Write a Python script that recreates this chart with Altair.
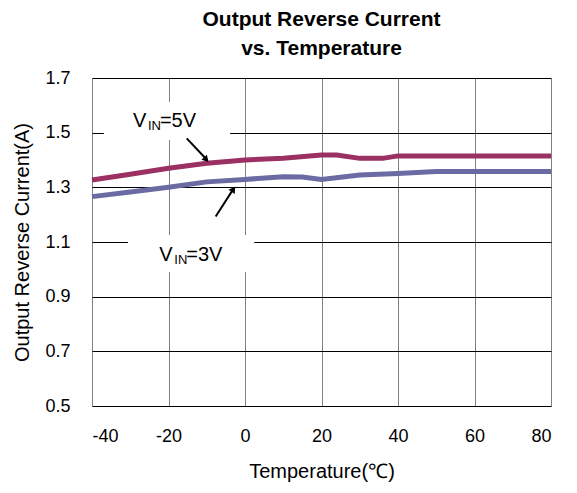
import altair as alt
import pandas as pd

# Data
temp_5v = [-40, -30, -20, -10, 0, 10, 20, 24, 30, 36, 40, 50, 60, 70, 80]
cur_5v = [1.327, 1.348, 1.370, 1.388, 1.400, 1.406, 1.418, 1.418, 1.406, 1.406, 1.415, 1.415, 1.415, 1.415, 1.415]
temp_3v = [-40, -30, -20, -10, 0, 10, 15, 20, 30, 40, 50, 60, 70, 80]
cur_3v = [1.266, 1.283, 1.300, 1.320, 1.329, 1.339, 1.338, 1.329, 1.345, 1.351, 1.358, 1.358, 1.358, 1.358]

x_ticks = [-40, -20, 0, 20, 40, 60, 80]
y_ticks = [0.5, 0.7, 0.9, 1.1, 1.3, 1.5, 1.7]

# annotation boxes (data units)
box_x = [-36.9, -30.6]
box_x2 = [-3.9, 2.4]
box_y = [1.612, 1.126]
box_y2 = [1.473, 0.990]

# labels (anchor of "V")
lab_x = [-29.3, -22.4]
lab_y = [1.521, 1.030]
lab_rest = ["=5V", "=3V"]

# arrows
arr_id = ["a5", "a5", "a3", "a3"]
arr_x = [-15.24, -9.9, -7.66, -2.9]
arr_y = [1.479, 1.400, 1.193, 1.297]
head_x = [-10.3, -3.19]
head_y = [1.404, 1.290]
head_angle = [137, 33]

df = pd.DataFrame({
    "t": temp_5v + temp_3v,
    "c": cur_5v + cur_3v,
    "s": ["5V"] * len(temp_5v) + ["3V"] * len(temp_3v),
})
boxes = pd.DataFrame({"x": box_x, "x2": box_x2, "y": box_y, "y2": box_y2})
labs = pd.DataFrame({"x": lab_x, "y": lab_y, "rest": lab_rest})
arrows = pd.DataFrame({"id": arr_id, "x": arr_x, "y": arr_y})
heads = pd.DataFrame({"x": head_x, "y": head_y, "a": head_angle})

FONT = "Liberation Sans"
xs = alt.Scale(domain=[-40, 80], nice=False)
ys = alt.Scale(domain=[0.5, 1.7], nice=False)

X = alt.X("t:Q", scale=xs, title="Temperature(℃)",
          axis=alt.Axis(values=x_ticks, grid=True, gridColor="#808080", gridWidth=1,
                        domain=False, ticks=False, labelPadding=21, labelFontSize=18,
                        labelExpr="datum.value < 0 ? '-' + abs(datum.value) : '' + datum.value",
                        titleFontSize=20, titlePadding=16, titleFontWeight="normal",
                        labelFont=FONT, titleFont=FONT, labelColor="black", titleColor="black"))
Y = alt.Y("c:Q", scale=ys, title="Output Reverse Current(A)",
          axis=alt.Axis(values=y_ticks, grid=True, gridColor="black", gridWidth=1,
                        domain=False, ticks=False, labelPadding=22, labelFontSize=18,
                        format=".1f", titleFontSize=20, titlePadding=12, titleFontWeight="normal",
                        labelFont=FONT, titleFont=FONT, labelColor="black", titleColor="black"))

lines = alt.Chart(df).mark_line(strokeWidth=5).encode(
    x=X, y=Y,
    color=alt.Color("s:N", scale=alt.Scale(domain=["5V", "3V"], range=["#9B3163", "#6B6BA3"]), legend=None),
)

rects = alt.Chart(boxes).mark_rect(fill="white").encode(
    x=alt.X("x:Q", scale=xs), x2="x2", y=alt.Y("y:Q", scale=ys), y2="y2")

tV = alt.Chart(labs).mark_text(align="left", baseline="alphabetic", fontSize=20, font=FONT, color="black").encode(
    x=alt.X("x:Q", scale=xs), y=alt.Y("y:Q", scale=ys), text=alt.value("V"))
tIN = alt.Chart(labs).mark_text(align="left", baseline="alphabetic", fontSize=13, font=FONT, color="black", dx=15, dy=3).encode(
    x=alt.X("x:Q", scale=xs), y=alt.Y("y:Q", scale=ys), text=alt.value("IN"))
tRest = alt.Chart(labs).mark_text(align="left", baseline="alphabetic", fontSize=20, font=FONT, color="black", dx=27).encode(
    x=alt.X("x:Q", scale=xs), y=alt.Y("y:Q", scale=ys), text="rest:N")

arr = alt.Chart(arrows).mark_line(color="black", strokeWidth=2).encode(
    x=alt.X("x:Q", scale=xs), y=alt.Y("y:Q", scale=ys), detail="id:N")
hd = alt.Chart(heads).mark_point(shape="triangle", filled=True, color="black", size=55, opacity=1).encode(
    x=alt.X("x:Q", scale=xs), y=alt.Y("y:Q", scale=ys), angle=alt.Angle("a:Q", scale=None))

chart = alt.layer(lines, rects, tV, tIN, tRest, arr, hd).properties(
    width=459, height=328,
    autosize=alt.AutoSizeParams(type="none"),
    padding={"left": 84, "top": 70, "right": 18, "bottom": 86},
    title=alt.TitleParams(["Output Reverse Current", "vs. Temperature"], fontSize=21, font=FONT,
                          fontWeight="bold", color="black", lineHeight=29, offset=10, anchor="middle"),
).configure_view(stroke="black", strokeWidth=3).configure(background="white")

chart.save("out.html", embed_options={"renderer": "svg", "actions": False})
